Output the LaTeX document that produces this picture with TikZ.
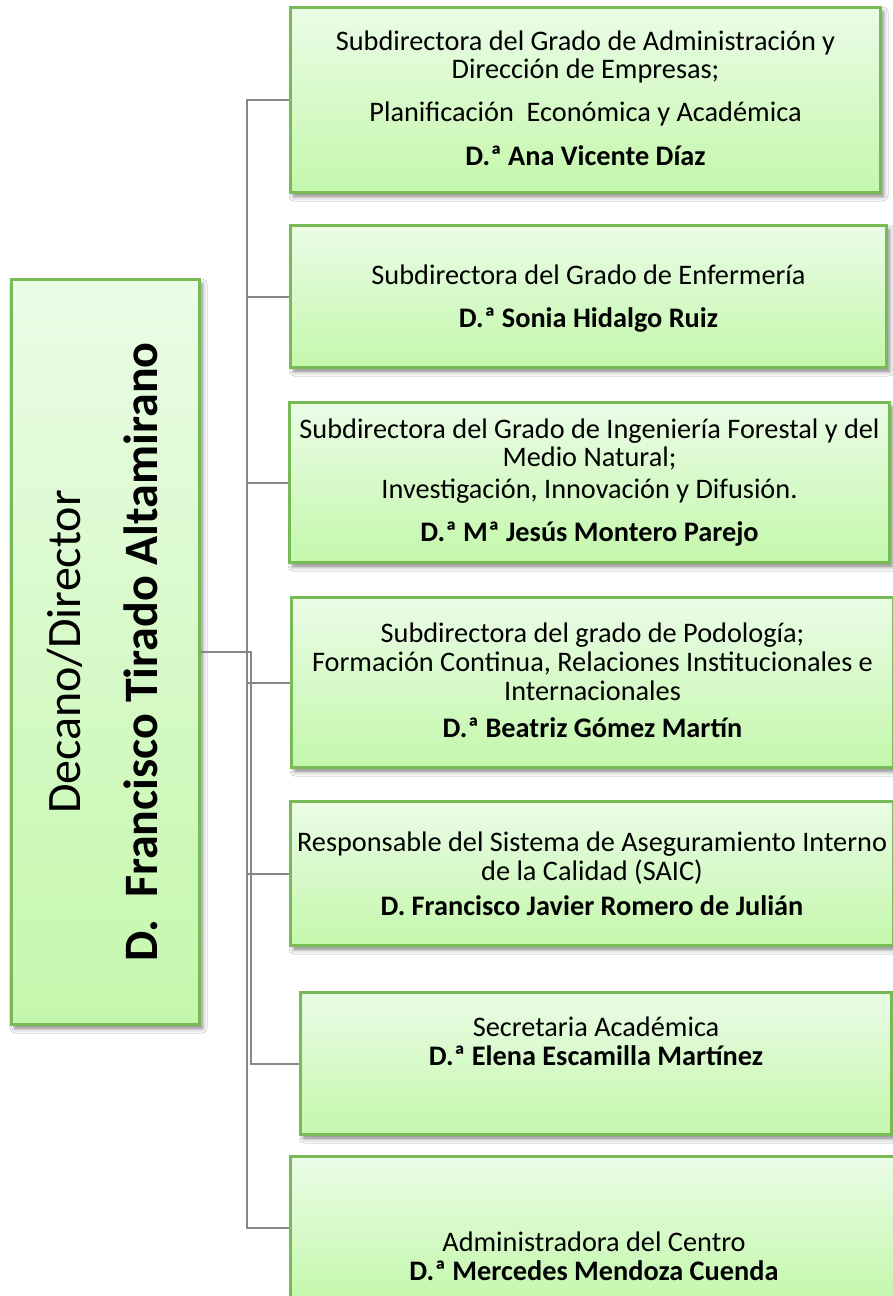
\documentclass[tikz,border=0pt]{standalone}
\usepackage{fontspec}
\setmainfont{Carlito}
\usetikzlibrary{shadows.blur}
\definecolor{boxborder}{RGB}{120,186,86}
\definecolor{boxtop}{RGB}{234,252,230}
\definecolor{boxbot}{RGB}{196,247,172}
\definecolor{conncol}{RGB}{135,135,135}
\tikzset{
  orgbox/.style={draw=boxborder, line width=2pt, top color=boxtop, bottom color=boxbot, inner sep=0pt,
    blur shadow={shadow xshift=3pt, shadow yshift=-4pt, shadow blur radius=5pt, shadow opacity=55}},
  boxtext/.style={align=center, inner sep=0pt, anchor=base, font=\fontsize{28.3}{28}\selectfont, text=black},
  conn/.style={draw=conncol, line width=2pt},
}
\begin{document}
\begin{tikzpicture}[x=1pt,y=-1pt]
\useasboundingbox (0,0) rectangle (893,1296);
\fill[white] (0,0) rectangle (893,1296);

\coordinate (bus) at (247,0);
\coordinate (bus2) at (251,0);

% boxes (geometry only)
\path node[orgbox, minimum width=187pt, minimum height=744pt] (dean) at (105.5,652) {};
\path node[orgbox, minimum width=589pt, minimum height=184pt] (b1) at (585.5,100) {};
\path node[orgbox, minimum width=595pt, minimum height=141pt] (b2) at (588.5,296.5) {};
\path node[orgbox, minimum width=599pt, minimum height=159pt] (b3) at (589.5,482.5) {};
\path node[orgbox, minimum width=601pt, minimum height=169pt] (b4) at (592.5,682.5) {};
\path node[orgbox, minimum width=602pt, minimum height=143pt] (b5) at (592,873.5) {};
\path node[orgbox, minimum width=590pt, minimum height=141pt] (b6) at (596,1063.5) {};
\path node[orgbox, minimum width=606pt, minimum height=142pt] (b7) at (594,1228) {};

% connectors
\draw[conn] (b1.west) -| (bus |- b7.west) -- (b7.west);
\foreach \b in {b2,b3,b4,b5}{\draw[conn] (\b.west) -- (bus |- \b.west);}
\draw[conn] (dean.east) -| (bus2 |- b6.west) -- (b6.west);

% redraw box borders over connector ends
\foreach \b in {dean,b1,b2,b3,b4,b5,b6,b7}{\draw[boxborder, line width=2pt] (\b.north west) rectangle (\b.south east);}

% texts
\node[rotate=90, anchor=base, inner sep=0pt, font=\fontsize{48}{48}\selectfont] (dt1) at (80,652) {Decano/Director};
\node[rotate=90, anchor=base, inner sep=0pt, font=\fontsize{48}{48}\selectfont\bfseries] (dt2) at (157,652) {D.\ \ Francisco Tirado Altamirano};

\node[boxtext] (t1) at (585.5,165) {Subdirectora del Grado de Administración y\\ Dirección de Empresas;\\[15pt] Planificación\ \ Económica y Académica\\[16pt] \textbf{D.ª Ana Vicente Díaz}};
\node[boxtext] (t2) at (588.5,327) {Subdirectora del Grado de Enfermería\\[15pt] \textbf{D.ª Sonia Hidalgo Ruiz}};
\node[boxtext] (t3) at (589.5,541) {Subdirectora del Grado de Ingeniería Forestal y del\\ Medio Natural;\\[4pt] Investigación, Innovación y Difusión.\\[15pt] \textbf{D.ª Mª Jesús Montero Parejo}};
\node[boxtext] (t4) at (592.5,737) {Subdirectora del grado de Podología;\\[1pt] Formación Continua, Relaciones Institucionales e\\[1pt] Internacionales\\[9pt] \textbf{D.ª Beatriz Gómez Martín}};
\node[boxtext] (t5) at (592,915) {Responsable del Sistema de Aseguramiento Interno\\[1pt] de la Calidad (SAIC)\\[7pt] \textbf{D. Francisco Javier Romero de Julián}};
\node[boxtext] (t6) at (596,1065) {Secretaria Académica\\[1pt] \textbf{D.ª Elena Escamilla Martínez}};
\node[boxtext] (t7) at (594,1280) {Administradora del Centro\\[1pt] \textbf{D.ª Mercedes Mendoza Cuenda}};
\end{tikzpicture}
\end{document}
